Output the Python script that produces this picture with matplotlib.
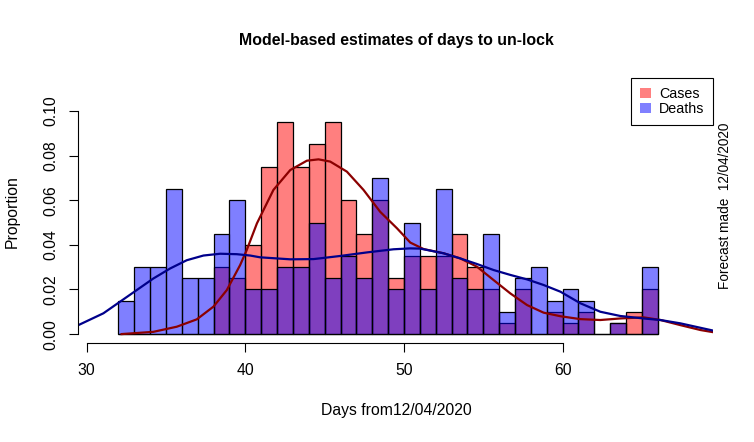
import numpy as np
import matplotlib
matplotlib.use("Agg")
import matplotlib.pyplot as plt
from matplotlib.patches import Patch

plt.rcParams['font.family'] = ['Liberation Sans', 'DejaVu Sans']

# histogram bins (left edges, width 1 day)
bin_left = list(range(32, 66))

cases = [0, 0, 0, 0, 0, 0, 0.03, 0.025, 0.04, 0.075, 0.095, 0.075, 0.085, 0.095,
         0.06, 0.045, 0.06, 0.025, 0.035, 0.035, 0.035, 0.045, 0.03, 0.02, 0.005,
         0.02, 0, 0.01, 0.005, 0.01, 0, 0.005, 0.01, 0.02]

deaths = [0.015, 0.03, 0.03, 0.065, 0.025, 0.025, 0.045, 0.06, 0.02, 0.02, 0.03,
          0.03, 0.05, 0.025, 0.035, 0.025, 0.07, 0.02, 0.05, 0.02, 0.065, 0.025,
          0.02, 0.045, 0.01, 0.025, 0.03, 0.015, 0.02, 0.015, 0, 0.005, 0, 0.03]

# density curves
cases_dens_x = [32.2, 34.2, 35.68, 36.94, 37.99, 38.83, 39.67, 40.09, 40.73, 41.77,
                42.83, 43.88, 44.61, 45.35, 46.4, 47.45, 48.5, 49.56, 50.4, 51.24,
                52.5, 53.55, 54.6, 55.65, 56.71, 57.76, 58.8, 59.86, 61.12, 62.38,
                63.64, 65.1, 66.17, 67.43, 68.7, 69.53]
cases_dens_y = [0.0, 0.001, 0.0033, 0.0066, 0.0123, 0.0197, 0.0309, 0.0377, 0.0496,
                0.0646, 0.0735, 0.0777, 0.0783, 0.0773, 0.0728, 0.0646, 0.0548,
                0.0474, 0.041, 0.0381, 0.0362, 0.0339, 0.0302, 0.0242, 0.0182,
                0.013, 0.0096, 0.008, 0.0067, 0.0063, 0.007, 0.0075, 0.0063,
                0.004, 0.0018, 0.0008]

deaths_dens_x = [29.47, 31.05, 32.1, 33.15, 34.2, 35.26, 36.31, 37.36, 38.41, 39.46,
                 40.3, 40.93, 42.83, 44.3, 45.98, 47.67, 49.34, 50.4, 51.03, 52.5,
                 53.55, 54.6, 55.65, 56.71, 57.76, 58.8, 59.86, 61.12, 62.38, 63.64,
                 65.1, 66.17, 67.43, 68.7, 69.53]
deaths_dens_y = [0.004, 0.0093, 0.0145, 0.0197, 0.0249, 0.0294, 0.0331, 0.0352,
                 0.036, 0.0358, 0.0352, 0.0344, 0.0335, 0.0336, 0.035, 0.0366,
                 0.038, 0.0384, 0.0383, 0.0362, 0.0339, 0.0314, 0.0287, 0.0265,
                 0.0245, 0.022, 0.019, 0.0138, 0.01, 0.0081, 0.007, 0.0063,
                 0.0048, 0.0028, 0.0015]

W, H = 754, 442
fig = plt.figure(figsize=(W / 100, H / 100), dpi=100)
ax = fig.add_axes([78.3 / W, 1 - 343 / H, (713.3 - 78.3) / W, (343 - 102) / H])

ax.bar(bin_left, cases, width=1, align='edge', color=(1, 0, 0, 0.5),
       edgecolor='black', linewidth=0.9)
ax.bar(bin_left, deaths, width=1, align='edge', color=(0, 0, 1, 0.5),
       edgecolor='black', linewidth=0.9)
ax.plot(cases_dens_x, cases_dens_y, color='#8B0000', lw=1.6,
        solid_joinstyle='round')
ax.plot(deaths_dens_x, deaths_dens_y, color='#00008B', lw=1.6,
        solid_joinstyle='round')

ax.set_xlim(29.47, 69.5)
ax.set_ylim(-0.004, 0.104)
for s in ['top', 'right']:
    ax.spines[s].set_visible(False)
ax.spines['left'].set_bounds(0, 0.1)
ax.spines['bottom'].set_bounds(30, 60)
ax.spines['left'].set_linewidth(0.8)
ax.spines['bottom'].set_linewidth(0.8)
ax.set_xticks([30, 40, 50, 60])
ax.set_yticks([0, 0.02, 0.04, 0.06, 0.08, 0.10])
ax.set_yticklabels(['0.00', '0.02', '0.04', '0.06', '0.08', '0.10'])
ax.tick_params(length=6.5, width=0.8, pad=8, labelsize=11.3)
for lab in ax.get_yticklabels():
    lab.set_rotation(90)
    lab.set_va('center')

fig.text(396 / W, 1 - 40 / H, 'Model-based estimates of days to un-lock',
         ha='center', va='center', fontsize=11.4, fontweight='bold')
fig.text(396 / W, 1 - 410 / H, 'Days from12/04/2020', ha='center', va='center',
         fontsize=11.3)
fig.text(12 / W, 1 - 212 / H, 'Proportion', ha='center', va='center',
         rotation=90, fontsize=11.3)
fig.text(725 / W, 1 - 206 / H, 'Forecast made  12/04/2020', ha='center',
         va='center', rotation=90, fontsize=9.8)

handles = [Patch(facecolor='#FF8080', edgecolor='none', label='Cases'),
           Patch(facecolor='#8080FF', edgecolor='none', label='Deaths')]
leg = fig.legend(handles=handles, loc='upper right',
                 bbox_to_anchor=(713.3 / W, 1 - 78.3 / H), fontsize=10.3,
                 fancybox=False, framealpha=1, edgecolor='black',
                 handlelength=0.75, handleheight=0.75, handletextpad=0.6,
                 borderpad=0.6, labelspacing=0.08, borderaxespad=0)
leg.get_frame().set_linewidth(0.8)

fig.savefig('out.png', dpi=100)
